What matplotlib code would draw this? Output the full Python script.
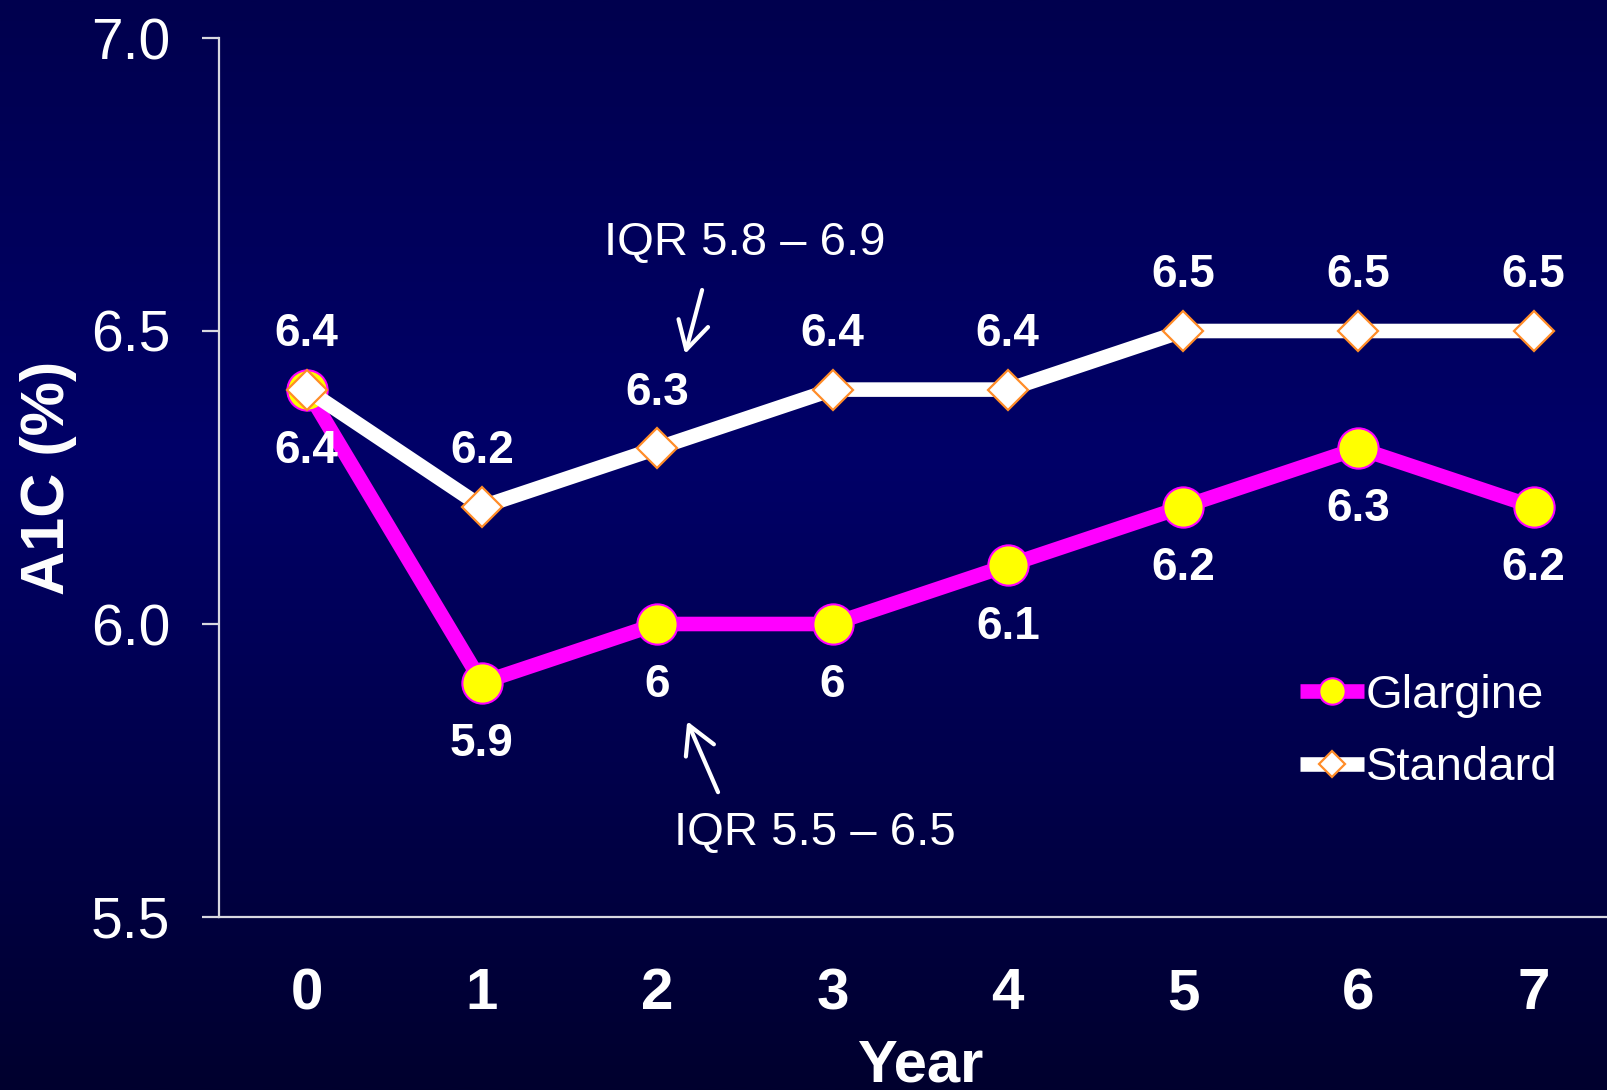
import numpy as np
import matplotlib
matplotlib.use("Agg")
import matplotlib.pyplot as plt
from matplotlib.lines import Line2D
from matplotlib.colors import LinearSegmentedColormap

plt.rcParams['font.family'] = ['Liberation Sans', 'DejaVu Sans']

# Data
years = [0, 1, 2, 3, 4, 5, 6, 7]
glargine = [6.4, 5.9, 6.0, 6.0, 6.1, 6.2, 6.3, 6.2]
standard = [6.4, 6.2, 6.3, 6.4, 6.4, 6.5, 6.5, 6.5]
glargine_labels = ["6.4", "5.9", "6", "6", "6.1", "6.2", "6.3", "6.2"]
standard_labels = ["6.4", "6.2", "6.3", "6.4", "6.4", "6.5", "6.5", "6.5"]
yticks = [5.5, 6.0, 6.5, 7.0]
ytick_labels = ["5.5", "6.0", "6.5", "7.0"]

W, H = 1608, 1090
fig = plt.figure(figsize=(W / 100, H / 100), dpi=100)

# Vertical navy gradient background
bg = fig.add_axes([0, 0, 1, 1], zorder=-10)
cmap = LinearSegmentedColormap.from_list(
    "navy", [(0.0, "#00004e"), (0.42, "#000068"), (1.0, "#00002e")])
grad = np.linspace(0, 1, 512).reshape(-1, 1)
bg.imshow(grad, aspect="auto", cmap=cmap, extent=[0, 1, 0, 1], origin="upper")
bg.set_axis_off()

ax = fig.add_axes([219 / W, 173 / H, 1 - 219 / W, (917 - 38) / H])
ax.patch.set_alpha(0)

ax.plot(years, glargine, color="#ff00ff", lw=10.5, marker="o", ms=29,
        mfc="#ffff00", mec="#ff00ff", mew=1.5, solid_joinstyle="round",
        solid_capstyle="round", zorder=3)
ax.plot(years, standard, color="white", lw=10.5, marker="D", ms=20.5,
        mfc="white", mec="#ff8c28", mew=1.6, solid_joinstyle="round",
        solid_capstyle="round", zorder=4)

label_kw = dict(textcoords="offset points", ha="center", va="center",
                color="white", fontsize=33, fontweight="bold")
for x, y, t in zip(years, standard, standard_labels):
    ax.annotate(t, (x, y), xytext=(0, 40), **label_kw)
for x, y, t in zip(years, glargine, glargine_labels):
    ax.annotate(t, (x, y), xytext=(0, -44), **label_kw)

# IQR annotations
arrow_kw = dict(arrowstyle="->,head_length=0.9,head_width=0.5",
                color="white", lw=3, mutation_scale=22, shrinkA=0, shrinkB=0)
ax.annotate("", xy=(2.159, 6.461), xytext=(2.256, 6.570), arrowprops=arrow_kw)
ax.annotate("", xy=(2.171, 5.834), xytext=(2.347, 5.713), arrowprops=arrow_kw)
ax.text(2.50, 6.650, "IQR 5.8 \u2013 6.9", color="white", fontsize=34,
        ha="center", va="center")
ax.text(2.90, 5.643, "IQR 5.5 \u2013 6.5", color="white", fontsize=34,
        ha="center", va="center")

ax.set_xlim(-0.5, 7.424)
ax.set_ylim(5.5, 7.0)
ax.set_yticks(yticks)
ax.set_yticklabels(ytick_labels)
ax.set_xticks(years)
ax.set_xticklabels([str(y) for y in years])

for s in ["top", "right"]:
    ax.spines[s].set_visible(False)
for s in ["left", "bottom"]:
    ax.spines[s].set_color("#d8d8e0")
    ax.spines[s].set_linewidth(1.6)

ax.tick_params(axis="y", colors="#d8d8e0", length=12, width=1.6, pad=23,
               labelsize=41, labelcolor="white")
ax.tick_params(axis="x", length=0, pad=36, labelsize=42, labelcolor="white")
for lbl in ax.get_xticklabels():
    lbl.set_fontweight("bold")

fig.text(49 / W, 1 - 478 / H, "A1C (%)", rotation=90, color="white",
         fontsize=44, fontweight="bold", ha="center", va="center")
fig.text(920 / W, 8 / H, "Year", color="white", fontsize=43,
         fontweight="bold", ha="center", va="baseline")

# Legend
handles = [
    Line2D([], [], color="#ff00ff", lw=10.5, marker="o", ms=19,
           mfc="#ffff00", mec="#ff00ff", mew=1.5, solid_capstyle="butt"),
    Line2D([], [], color="white", lw=10.5, marker="D", ms=13.5,
           mfc="white", mec="#ff8c28", mew=1.6, solid_capstyle="butt"),
]
leg = fig.legend(handles, ["Glargine", "Standard"], loc="center left",
                 bbox_to_anchor=(1300 / W, 1 - 732 / H), frameon=False,
                 fontsize=34, labelcolor="white", handlelength=1.35,
                 handletextpad=0.05, labelspacing=0.61, borderpad=0,
                 borderaxespad=0)

fig.savefig("out.png", dpi=100, facecolor=fig.get_facecolor())
